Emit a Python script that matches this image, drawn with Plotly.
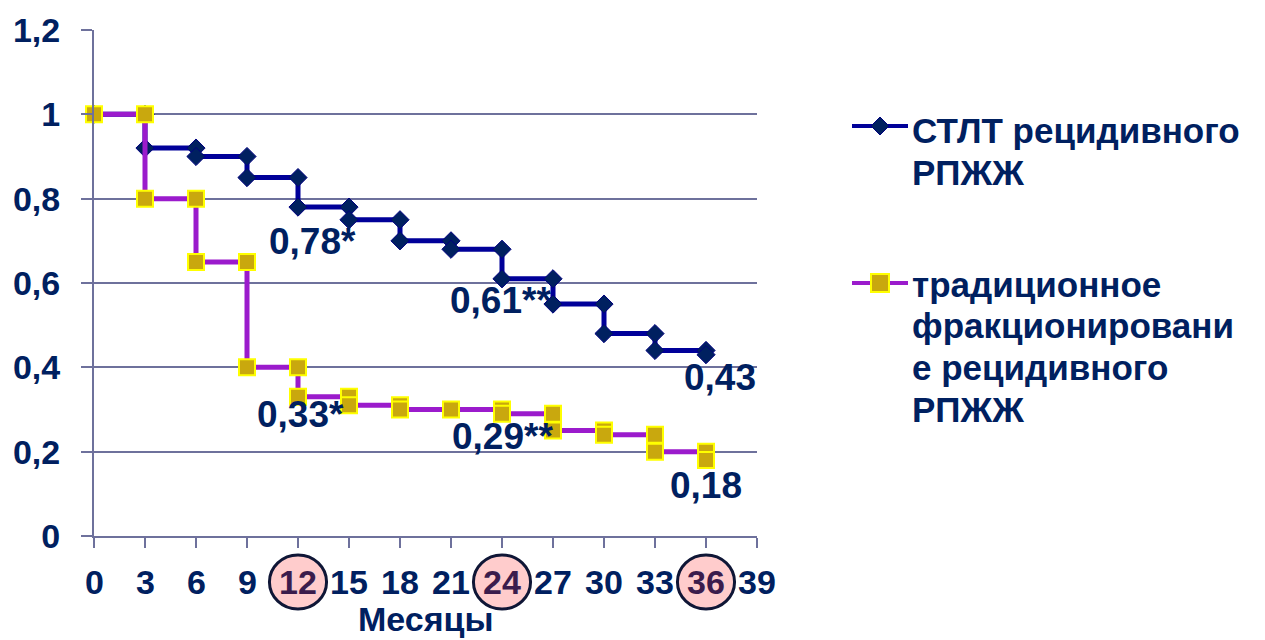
import plotly.graph_objects as go

# Survival curves (months vs. proportion), drawn as explicit steps
months_stlt = [0, 3, 3, 6, 6, 9, 9, 12, 12, 15, 15, 18, 18, 21, 21, 24, 24, 27, 27, 30, 30, 33, 33, 36, 36]
surv_stlt = [1, 1, 0.92, 0.92, 0.90, 0.90, 0.85, 0.85, 0.78, 0.78, 0.75, 0.75, 0.70, 0.70, 0.68, 0.68,
             0.61, 0.61, 0.55, 0.55, 0.48, 0.48, 0.44, 0.44, 0.43]

months_trad = [0, 3, 3, 6, 6, 9, 9, 12, 12, 15, 15, 18, 18, 21, 24, 24, 27, 27, 30, 30, 33, 33, 36, 36]
surv_trad = [1, 1, 0.80, 0.80, 0.65, 0.65, 0.40, 0.40, 0.33, 0.33, 0.31, 0.31, 0.30, 0.30, 0.30, 0.29,
             0.29, 0.25, 0.25, 0.24, 0.24, 0.20, 0.20, 0.18]

name_stlt = ["СТЛТ рецидивного", "РПЖЖ"]
name_trad = ["традиционное", "фракционировани", "е рецидивного", "РПЖЖ"]

x_ticks = [0, 3, 6, 9, 12, 15, 18, 21, 24, 27, 30, 33, 36, 39]
highlight_months = [12, 24, 36]
y_ticks = [0, 0.2, 0.4, 0.6, 0.8, 1.0, 1.2]
y_ticktext = ["0", "0,2", "0,4", "0,6", "0,8", "1", "1,2"]
label_marks = ["*", "**", ""]
x_title = "Месяцы"

NAVY_TEXT = "#002060"
BLUE_LINE = "#000099"
DIAMOND = "#002060"
PURPLE = "#9B1BCC"
GOLD = "#C9A80E"
YELLOW = "#FFFF00"
GRID = "#6E719C"
FONT = "Liberation Sans, Arial, sans-serif"

W, H = 1265, 640
L, R, T, B = 94, 508, 30, 104
PW, PH = W - L - R, H - T - B


def px(xp):
    return (xp - L) / PW


def py(yp):
    return (H - B - yp) / PH


fig = go.Figure()

fig.add_trace(go.Scatter(
    x=months_stlt, y=surv_stlt, mode="lines+markers", cliponaxis=False,
    line=dict(color=BLUE_LINE, width=5),
    marker=dict(symbol="diamond", size=14, color=DIAMOND, line=dict(color="#000080", width=1)),
    showlegend=False, hoverinfo="x+y",
))
fig.add_trace(go.Scatter(
    x=months_trad, y=surv_trad, mode="lines+markers", cliponaxis=False,
    line=dict(color=PURPLE, width=5),
    marker=dict(symbol="square", size=16, color=GOLD, line=dict(color=YELLOW, width=2)),
    showlegend=False, hoverinfo="x+y",
))


def fmt(v):
    return f"{v:.2f}".replace(".", ",")


def value_at(xs, ys, m):
    # last (lowest) value at month m
    return [y for x, y in zip(xs, ys) if x == m][-1]


annotations = []
# value labels at 12/24/36 months
stlt_shift = [(14, -34), (-2, -22), (14, -23)]
trad_shift = [(2, -18), (0, -23), (0, -25)]
for i, m in enumerate(highlight_months):
    v = value_at(months_stlt, surv_stlt, m)
    dx, dy = stlt_shift[i]
    annotations.append(dict(x=m, y=v, xref="x", yref="y", text="<b>" + fmt(v) + label_marks[i] + "</b>",
                            showarrow=False, xshift=dx, yshift=dy,
                            font=dict(family=FONT, size=37, color=NAVY_TEXT)))
    v = value_at(months_trad, surv_trad, m)
    dx, dy = trad_shift[i]
    annotations.append(dict(x=m, y=v, xref="x", yref="y", text="<b>" + fmt(v) + label_marks[i] + "</b>",
                            showarrow=False, xshift=dx, yshift=dy,
                            font=dict(family=FONT, size=37, color=NAVY_TEXT)))

# x-axis tick labels (drawn as text so they can sit inside the highlight circles)
for m in x_ticks:
    col = "#3B1C4C" if m in highlight_months else NAVY_TEXT
    annotations.append(dict(x=m, y=py(582), xref="x", yref="paper", text=f"<b>{m}</b>",
                            showarrow=False, yanchor="middle",
                            font=dict(family=FONT, size=34, color=col)))

annotations.append(dict(x=0.5, y=py(619), xref="paper", yref="paper", text="<b>" + x_title + "</b>",
                        showarrow=False, yanchor="middle",
                        font=dict(family=FONT, size=34, color=NAVY_TEXT)))

# legend text
for i, line in enumerate(name_stlt):
    annotations.append(dict(x=px(910), y=py(130 + 42 * i), xref="paper", yref="paper",
                            text="<b>" + line + "</b>", showarrow=False, xanchor="left", yanchor="middle",
                            font=dict(family=FONT, size=35, color=NAVY_TEXT)))
for i, line in enumerate(name_trad):
    annotations.append(dict(x=px(910), y=py(284 + 41.7 * i), xref="paper", yref="paper",
                            text="<b>" + line + "</b>", showarrow=False, xanchor="left", yanchor="middle",
                            font=dict(family=FONT, size=35, color=NAVY_TEXT)))

shapes = []
# highlight circles behind 12 / 24 / 36
for m in highlight_months:
    shapes.append(dict(type="circle", xref="x", yref="paper", layer="below",
                       x0=m - 1.68, x1=m + 1.68, y0=py(609), y1=py(555),
                       fillcolor="#FFCCCC", line=dict(color="#0F1636", width=3)))

# legend symbols
def diamond_path(cx, cy, r):
    pts = [(cx, cy - r), (cx + r, cy), (cx, cy + r), (cx - r, cy)]
    return "M " + " L ".join(f"{px(a)},{py(b)}" for a, b in pts) + " Z"


shapes.append(dict(type="line", xref="paper", yref="paper", x0=px(852), x1=px(908), y0=py(126), y1=py(126),
                   line=dict(color=BLUE_LINE, width=4)))
shapes.append(dict(type="path", xref="paper", yref="paper", path=diamond_path(880, 126, 9),
                   fillcolor=DIAMOND, line=dict(color="#000080", width=1)))
shapes.append(dict(type="line", xref="paper", yref="paper", x0=px(852), x1=px(908), y0=py(283), y1=py(283),
                   line=dict(color=PURPLE, width=4)))
shapes.append(dict(type="rect", xref="paper", yref="paper", x0=px(871), x1=px(889), y0=py(292), y1=py(274),
                   fillcolor=GOLD, line=dict(color=YELLOW, width=2)))

fig.update_layout(
    width=W, height=H,
    margin=dict(l=L, r=R, t=T, b=B, pad=0),
    paper_bgcolor="white", plot_bgcolor="white",
    annotations=annotations, shapes=shapes,
    font=dict(family=FONT, color=NAVY_TEXT),
)

fig.update_xaxes(
    range=[0, 39], tickvals=x_ticks, showticklabels=False,
    ticks="outside", ticklen=10, tickwidth=2, tickcolor=GRID,
    showline=True, linecolor=GRID, linewidth=2,
    showgrid=False, zeroline=False, fixedrange=True,
)
fig.update_yaxes(
    range=[0, 1.2], tickvals=y_ticks, ticktext=y_ticktext,
    ticks="outside", ticklen=11, tickwidth=2, tickcolor=GRID,
    tickfont=dict(family=FONT, size=34, color=NAVY_TEXT, weight="bold"),
    ticklabelstandoff=14,
    showline=True, linecolor=GRID, linewidth=2,
    showgrid=True, gridcolor=GRID, gridwidth=2, zeroline=False, fixedrange=True,
)

fig.write_html("out.html")
